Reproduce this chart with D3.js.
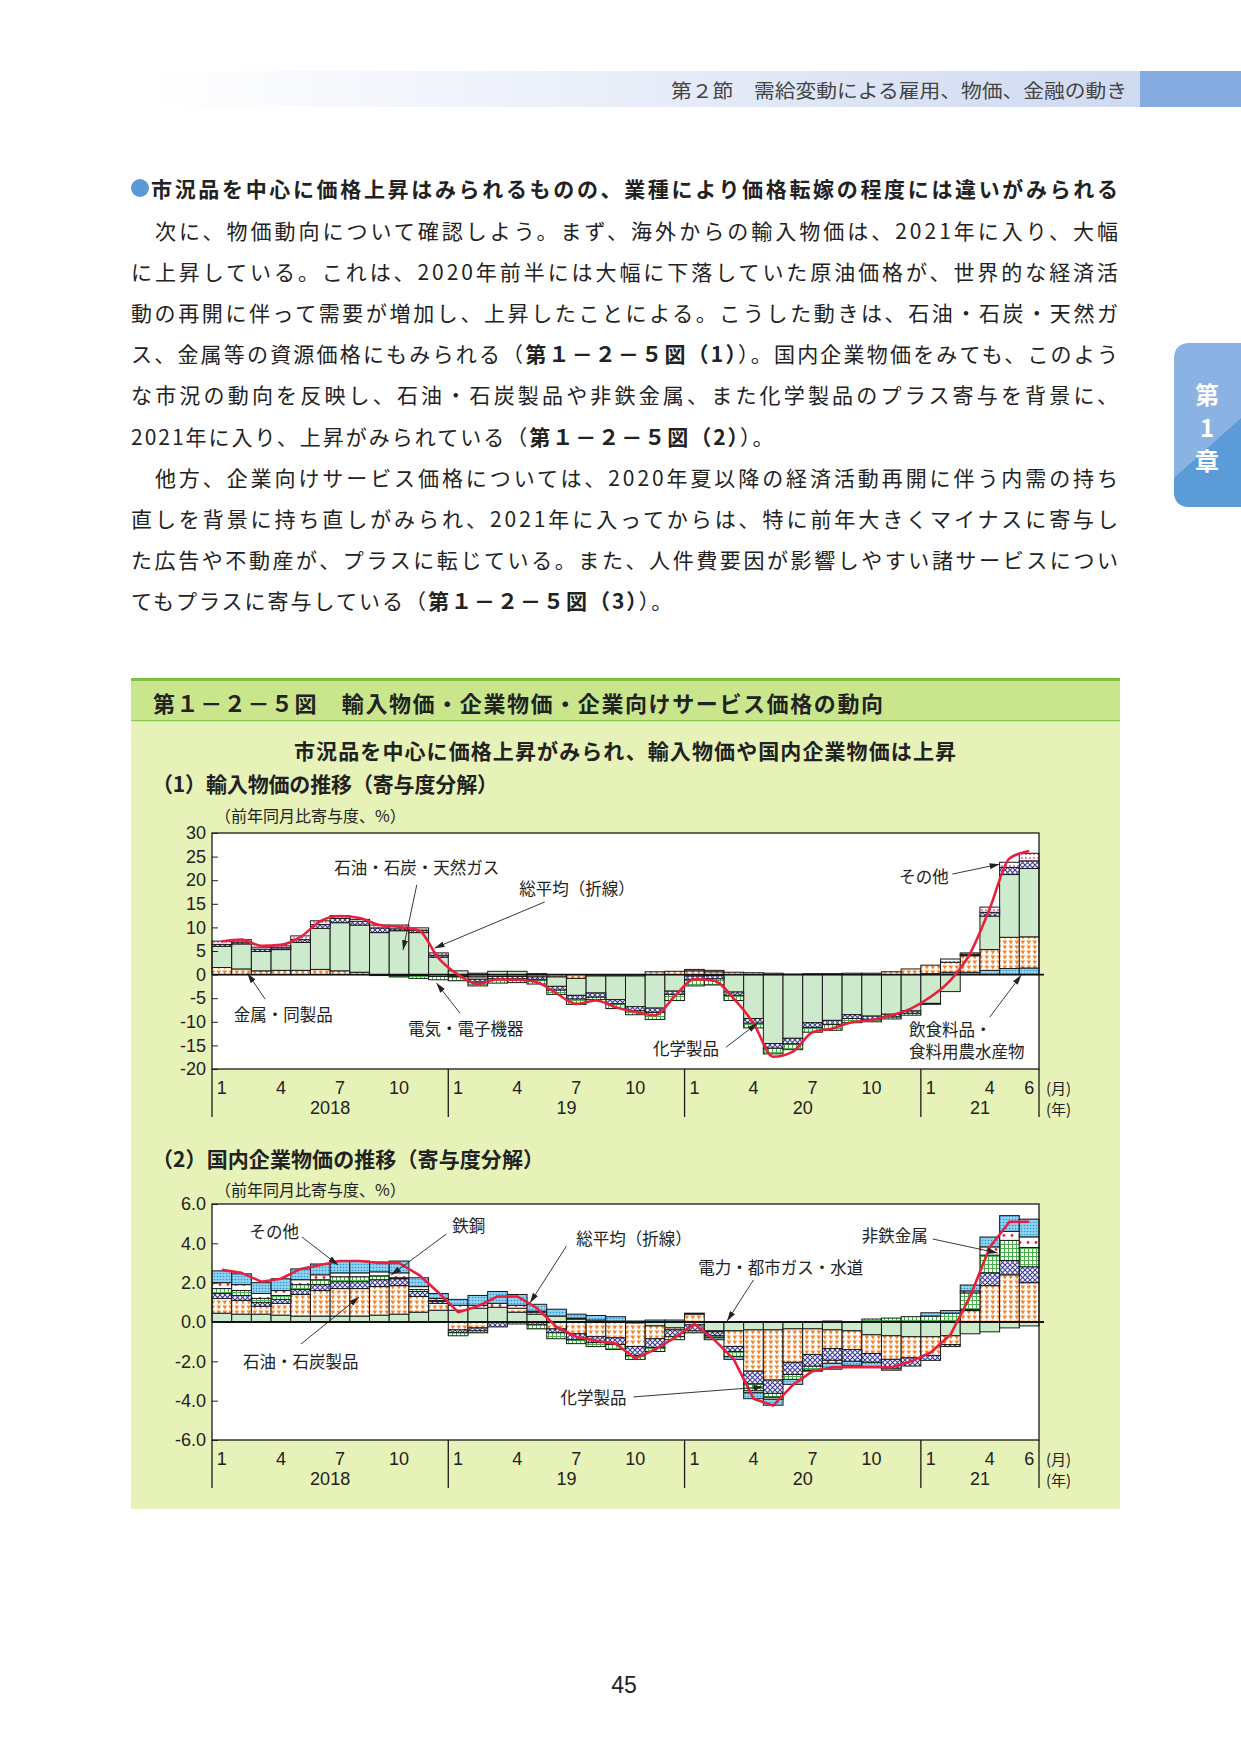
<!DOCTYPE html>
<html>
<head>
<meta charset="utf-8">
<script src="https://cdn.jsdelivr.net/npm/d3@7"></script>
<style>
body{margin:0;background:#fff}
svg{display:block}
</style>
</head>
<body>
<div id="page"></div>
<script>
// ---- data ----
var months = ["2018/1","2018/2","2018/3","2018/4","2018/5","2018/6","2018/7","2018/8","2018/9","2018/10","2018/11","2018/12",
              "2019/1","2019/2","2019/3","2019/4","2019/5","2019/6","2019/7","2019/8","2019/9","2019/10","2019/11","2019/12",
              "2020/1","2020/2","2020/3","2020/4","2020/5","2020/6","2020/7","2020/8","2020/9","2020/10","2020/11","2020/12",
              "2021/1","2021/2","2021/3","2021/4","2021/5","2021/6"];
var monthTicks = [0,3,6,9,12,15,18,21,24,27,30,33,36,39,41];
var years = [{label:"2018",from:0,to:11},{label:"19",from:12,to:23},{label:"20",from:24,to:35},{label:"21",from:36,to:41}];

// (1) import prices, contributions
var food1  = [0,0,0,0,0,0,0,0,0,0,0,0, 0,0,0,0,0,0,0,0,0,0,0,0, 0,0,0,0,0,0,0,0,0,0,0,0, 0.2,0.5,0.5,0.9,1.3,1.4];
var metal1 = [1.5,1.2,0.8,0.9,0.9,1.1,0.8,0.5,-0.2,-0.2,-0.2,-0.4, -0.3,-0.5,-0.4,-0.4,-0.5,-0.5,-0.8,-0.3,-0.3,-0.3,0.6,0.7, 0.8,0.6,0.5,0.4,0.3,0.1,0.2,0.2,0.3,0.3,0.6,1.2, 1.8,2.1,3.5,4.4,6.6,6.6];
var oil1   = [4.5,5.3,4.1,4.4,5.9,8.7,10.2,10.0,8.9,9.3,8.9,3.7, 0.8,-0.5,0.7,0.7,0.2,-2.0,-3.6,-3.6,-5.0,-6.5,-7.1,-3.5, -0.3,-0.2,-3.7,-9.3,-14.6,-13.5,-10.2,-9.7,-8.5,-8.8,-8.4,-7.7, -6.1,-3.6,0.2,7.1,13.3,14.5];
var chem1  = [0.4,0.4,0.5,0.4,0.6,0.8,0.9,0.8,1.0,0.4,0.5,0.4, -0.2,-0.6,-0.5,-0.5,-0.6,-0.8,-0.8,-0.9,-0.9,-0.9,-0.9,-0.7, -0.8,-0.7,-0.7,-1.0,-1.0,-1.2,-1.0,-0.9,-0.8,-0.7,-0.6,-0.5, -0.2,0.0,0.1,0.8,1.5,1.6];
var elec1  = [0,0,0,0,0,0,0,0,0,-0.3,-0.6,-0.7, -0.8,-0.8,-0.9,-0.8,-0.9,-0.9,-1.1,-0.5,-1.0,-0.8,-1.5,-1.3, -1.3,-1.3,-1.1,-1.0,-1.2,-1.2,-1.0,-1.2,-0.9,-0.5,-0.4,-0.4, 0,0,0,0,0,0];
var other1 = [0.7,0.5,0.4,0.4,0.8,0.8,0.6,0.4,0.6,0.8,0.5,0.5, 0,0.3,0,0,0,0,0,0,0,0,0,0, 0.3,0.3,0,0,0,0,0,0,0,0,0,0, 0,0.7,0.3,1.1,1.1,1.6];
var total1 = [7.0,7.4,6.1,6.3,8.0,11.3,12.4,12.0,10.5,10.1,9.4,3.5, 0.0,-2.0,-1.0,-1.1,-1.6,-4.0,-6.2,-5.5,-6.9,-7.9,-8.6,-4.6, -1.0,-1.3,-5.1,-10.3,-17.4,-16.3,-12.2,-11.4,-10.1,-9.6,-8.6,-7.2, -4.7,-1.2,4.5,14.0,24.6,26.2];

// (2) domestic corporate goods prices, contributions
var util2   = [0.45,0.4,0.4,0.35,0.3,0.3,0.3,0.3,0.35,0.4,0.5,0.6, 0.6,0.7,0.75,0.5,0.4,0.3,0.15,0.1,0.05,-0.05,-0.2,-0.3, -0.15,-0.45,-0.45,-0.4,-0.4,-0.35,-0.35,-0.4,-0.45,-0.65,-0.7,-0.75, -0.75,-0.7,-0.6,-0.5,-0.3,-0.2];
var petro2  = [0.75,0.7,0.4,0.6,1.1,1.3,1.4,1.4,1.45,1.45,0.8,0.35, -0.4,-0.3,0.0,0.2,0.1,-0.35,-0.6,-0.75,-0.8,-1.2,-0.65,-0.1, 0.4,-0.05,-0.8,-2.1,-2.55,-1.7,-1.3,-0.95,-0.95,-0.95,-1.2,-1.07, -0.95,-0.45,0.58,1.85,2.4,2.0];
var chem2   = [0.25,0.25,0.2,0.2,0.25,0.3,0.35,0.35,0.35,0.35,0.25,0.1, -0.15,-0.15,-0.25,0.0,-0.15,-0.2,-0.3,-0.3,-0.35,-0.45,-0.45,-0.35, -0.3,-0.2,-0.25,-0.65,-0.68,-0.62,-0.6,-0.6,-0.6,-0.45,-0.45,-0.42, -0.25,-0.1,0.05,0.65,0.73,0.81];
var nonfer2 = [0.25,0.25,0.2,0.2,0.25,0.25,0.25,0.25,0.2,0.05,0.1,0.05, -0.15,-0.1,0.0,-0.1,-0.2,-0.3,-0.2,-0.2,-0.25,-0.2,-0.2,-0.15, -0.1,-0.1,-0.25,-0.35,-0.2,-0.25,-0.2,0.05,0.0,0.15,0.2,0.27, 0.3,0.45,0.85,0.9,1.02,0.98];
var steel2  = [0.3,0.3,0.25,0.25,0.25,0.25,0.2,0.2,0.2,0.25,0.15,0.1, 0.25,0.15,0.2,0.15,0.05,0.0,0.05,0.0,0.0,0.0,0.0,0.0, 0.0,0.0,0.0,-0.1,-0.1,0.0,0.0,-0.15,0.0,0.0,0.0,0.0, 0.0,0.0,0.1,0.42,0.46,0.54];
var other2  = [0.6,0.55,0.55,0.6,0.55,0.55,0.6,0.6,0.5,0.6,0.45,0.25, 0.3,0.5,0.6,0.55,0.35,0.35,0.2,0.23,0.22,0.05,0.1,0.1, 0.05,-0.1,-0.15,-0.3,-0.3,-0.25,-0.05,-0.3,-0.2,-0.2,-0.1,0.0, 0.17,0.13,0.3,0.5,0.8,0.9];
var total2  = [2.65,2.5,2.05,2.2,2.7,2.9,3.1,3.1,3.0,3.0,2.4,1.5, 0.5,0.8,1.3,1.3,0.7,-0.25,-0.75,-0.95,-1.1,-1.85,-1.4,-0.8, -0.1,-0.9,-1.9,-3.9,-4.25,-3.2,-2.5,-2.3,-2.3,-2.3,-2.3,-2.0, -1.55,-0.65,1.3,3.8,5.1,5.1];

var ticks1 = [30,25,20,15,10,5,0,-5,-10,-15,-20];
var ticks2 = [6,4,2,0,-2,-4,-6];

var JP = "'Noto Sans CJK JP','Noto Sans',sans-serif";
var NUM = "'Liberation Sans',Arial,sans-serif";

var W = 1241, H = 1755;
var svg = d3.select("#page").append("svg").attr("width", W).attr("height", H);
var defs = svg.append("defs");

// ---- fill patterns ----
function pattern(id, w, h, bg) {
  var p = defs.append("pattern").attr("id", id).attr("width", w).attr("height", h)
      .attr("patternUnits", "userSpaceOnUse");
  p.append("rect").attr("width", w).attr("height", h).attr("fill", bg);
  return p;
}
pattern("tri", 6, 5, "#fff").append("path").attr("d", "M0.4,0.6H5.2L2.8,4.4Z").attr("fill", "#f4822a");
pattern("xhatch", 5, 5, "#fff").append("path").attr("d", "M0,0L5,5M5,0L0,5")
    .attr("stroke", "#3b3a9c").attr("stroke-width", 1.1);
pattern("grid", 4, 4, "#fff").append("path").attr("d", "M0,0.5H4M0.5,0V4")
    .attr("stroke", "#47b04b").attr("stroke-width", 1);
pattern("pinkdots", 4, 4, "#fff").append("circle").attr("cx", 2).attr("cy", 2).attr("r", 0.9).attr("fill", "#ec4a80");
var cy = pattern("cyan", 3, 3, "#8fd3f2");
cy.append("circle").attr("cx", 1.5).attr("cy", 1.5).attr("r", 0.8).attr("fill", "#2196d8");
var rd = pattern("reddots", 8, 7, "#fff");
rd.append("circle").attr("cx", 4).attr("cy", 3.5).attr("r", 1.4).attr("fill", "#e5262c");

// header gradient
var hg = defs.append("linearGradient").attr("id", "hdr").attr("x1", 0).attr("x2", 1);
hg.append("stop").attr("offset", 0).attr("stop-color", "#fff");
hg.append("stop").attr("offset", 1).attr("stop-color", "#cfdaf1");

defs.append("marker").attr("id", "arr").attr("viewBox", "0 0 10 6")
    .attr("refX", 10).attr("refY", 3).attr("markerWidth", 10).attr("markerHeight", 6)
    .attr("markerUnits", "userSpaceOnUse").attr("orient", "auto")
  .append("path").attr("d", "M0,0L10,3L0,6Z").attr("fill", "#222");

// ---- page header ----
svg.append("rect").attr("x", 150).attr("y", 71).attr("width", 990).attr("height", 36).attr("fill", "url(#hdr)");
svg.append("rect").attr("x", 1140).attr("y", 71).attr("width", 101).attr("height", 36).attr("fill", "#86abe0");
svg.append("text").attr("x", 1127).attr("y", 89).attr("text-anchor", "end").attr("dominant-baseline", "central")
    .attr("font-family", JP).attr("font-size", 19).attr("fill", "#444")
    .attr("textLength", 456).attr("lengthAdjust", "spacingAndGlyphs")
    .text("第２節　需給変動による雇用、物価、金融の動き");

// chapter tab
var tab = svg.append("g");
tab.append("path").attr("d", "M1241,343H1190Q1174,343 1174,359V491Q1174,507 1190,507H1241Z").attr("fill", "#8ab3e4");
tab.append("path").attr("d", "M1241,418L1174,478V491Q1174,507 1190,507H1241Z").attr("fill", "#5b9bd8");
["第", "1", "章"].forEach(function(t, i) {
  tab.append("text").attr("x", 1207).attr("y", [393, 426, 459][i]).attr("text-anchor", "middle")
     .attr("dominant-baseline", "central").attr("font-family", JP).attr("font-weight", "bold")
     .attr("font-size", 24).attr("fill", "#fff").text(t);
});

// ---- heading and body text ----
svg.append("circle").attr("cx", 140).attr("cy", 188).attr("r", 9).attr("fill", "#5b9ad6");
svg.append("text").attr("x", 151).attr("y", 188).attr("dominant-baseline", "central")
    .attr("font-family", JP).attr("font-weight", "bold").attr("font-size", 21).attr("fill", "#222")
    .attr("textLength", 967).attr("lengthAdjust", "spacing")
    .text("市況品を中心に価格上昇はみられるものの、業種により価格転嫁の程度には違いがみられる");

var bodyLines = [
  [true,  ["　次に、物価動向について確認しよう。まず、海外からの輸入物価は、2021年に入り、大幅"]],
  [true,  ["に上昇している。これは、2020年前半には大幅に下落していた原油価格が、世界的な経済活"]],
  [true,  ["動の再開に伴って需要が増加し、上昇したことによる。こうした動きは、石油・石炭・天然ガ"]],
  [true,  ["ス、金属等の資源価格にもみられる（", "*第１－２－５図（1）", "）。国内企業物価をみても、このよう"]],
  [true,  ["な市況の動向を反映し、石油・石炭製品や非鉄金属、また化学製品のプラス寄与を背景に、"]],
  [false, ["2021年に入り、上昇がみられている（", "*第１－２－５図（2）", "）。"]],
  [true,  ["　他方、企業向けサービス価格については、2020年夏以降の経済活動再開に伴う内需の持ち"]],
  [true,  ["直しを背景に持ち直しがみられ、2021年に入ってからは、特に前年大きくマイナスに寄与し"]],
  [true,  ["た広告や不動産が、プラスに転じている。また、人件費要因が影響しやすい諸サービスについ"]],
  [false, ["てもプラスに寄与している（", "*第１－２－５図（3）", "）。"]]
];
bodyLines.forEach(function(l, k) {
  var t = svg.append("text").attr("x", 131).attr("y", 230 + 41.1 * k).attr("dominant-baseline", "central")
      .attr("font-family", JP).attr("font-size", 21).attr("fill", "#222");
  if (l[0]) t.attr("textLength", 987).attr("lengthAdjust", "spacing");
  else t.attr("letter-spacing", 2);
  l[1].forEach(function(s) {
    var bold = s.charAt(0) === "*";
    t.append("tspan").attr("font-weight", bold ? "bold" : null).text(bold ? s.slice(1) : s);
  });
});

// ---- figure box ----
svg.append("rect").attr("x", 131).attr("y", 680).attr("width", 989).attr("height", 829).attr("fill", "#e6f2b7");
svg.append("rect").attr("x", 131).attr("y", 680).attr("width", 989).attr("height", 41).attr("fill", "#c9e68d");
svg.append("rect").attr("x", 131).attr("y", 678).attr("width", 989).attr("height", 3).attr("fill", "#7cc043");
svg.append("rect").attr("x", 131).attr("y", 720).attr("width", 989).attr("height", 1.2).attr("fill", "#8cc850");
svg.append("text").attr("x", 153).attr("y", 702).attr("dominant-baseline", "central")
    .attr("font-family", JP).attr("font-weight", "bold").attr("font-size", 22).attr("fill", "#222")
    .attr("textLength", 730).attr("lengthAdjust", "spacing")
    .text("第１－２－５図　輸入物価・企業物価・企業向けサービス価格の動向");
svg.append("text").attr("x", 625).attr("y", 750).attr("text-anchor", "middle").attr("dominant-baseline", "central")
    .attr("font-family", JP).attr("font-weight", "bold").attr("font-size", 21).attr("fill", "#222")
    .attr("textLength", 662).attr("lengthAdjust", "spacing")
    .text("市況品を中心に価格上昇がみられ、輸入物価や国内企業物価は上昇");

function subTitle(y, txt, len) {
  svg.append("text").attr("x", 152).attr("y", y).attr("dominant-baseline", "central")
     .attr("font-family", JP).attr("font-weight", "bold").attr("font-size", 21).attr("fill", "#222")
     .attr("textLength", len).attr("lengthAdjust", "spacing").text(txt);
}
function unitLabel(y) {
  svg.append("text").attr("x", 215).attr("y", y).attr("dominant-baseline", "central")
     .attr("font-family", JP).attr("font-size", 16).attr("fill", "#222").text("（前年同月比寄与度、%）");
}
var hyphen = function(f) { return function(d) { return f(d).replace("\u2212", "-"); }; };

// ---- chart ----
function drawChart(cfg) {
  var x = d3.scaleBand().domain(d3.range(months.length)).range([212, 1039]);
  var y = d3.scaleLinear().domain(cfg.domain).range([cfg.bottom, cfg.top]);
  var bw = x.bandwidth();
  var g = svg.append("g");

  g.append("rect").attr("x", 212).attr("y", cfg.top).attr("width", 827).attr("height", cfg.bottom - cfg.top)
   .attr("fill", "#fff");

  var rows = months.map(function(m, i) {
    var r = {i: i};
    cfg.series.forEach(function(s) { r[s.key] = s.values[i]; });
    return r;
  });
  var stacked = d3.stack().keys(cfg.series.map(function(s) { return s.key; }))
      .offset(d3.stackOffsetDiverging)(rows);
  var fills = {};
  cfg.series.forEach(function(s) { fills[s.key] = s.fill; });

  g.selectAll("g.layer").data(stacked).join("g").attr("class", "layer")
    .attr("fill", function(d) { return fills[d.key]; })
   .selectAll("rect").data(function(d) { return d.filter(function(e) { return e[0] !== e[1]; }); })
   .join("rect")
    .attr("x", function(d) { return x(d.data.i); })
    .attr("width", bw)
    .attr("y", function(d) { return y(Math.max(d[0], d[1])); })
    .attr("height", function(d) { return Math.abs(y(d[0]) - y(d[1])); })
    .attr("stroke", "#1a1a1a").attr("stroke-width", 1);

  g.append("line").attr("x1", 212).attr("x2", 1044).attr("y1", y(0)).attr("y2", y(0))
   .attr("stroke", "#111").attr("stroke-width", 1.8);

  g.append("path").datum(cfg.total)
   .attr("fill", "none").attr("stroke", "#e8203e").attr("stroke-width", 2.6).attr("stroke-linejoin", "round")
   .attr("d", d3.line().x(function(d, i) { return x(i) + bw / 2; }).y(function(d) { return y(d); }).curve(cfg.curve));

  // y axis
  var ax = g.append("g").attr("transform", "translate(212,0)")
      .call(d3.axisLeft(y).tickValues(cfg.ticks).tickSize(-6).tickSizeOuter(0).tickPadding(6).tickFormat(cfg.fmt));
  ax.select(".domain").remove();
  ax.selectAll("line").attr("stroke", "#222");
  ax.selectAll("text").attr("font-family", NUM).attr("font-size", 18).attr("fill", "#222");

  // frame and year separators
  g.append("rect").attr("x", 212).attr("y", cfg.top).attr("width", 827).attr("height", cfg.bottom - cfg.top)
   .attr("fill", "none").attr("stroke", "#1a1a1a").attr("stroke-width", 1.3);
  var seps = years.map(function(d) { return x(d.from); }).concat([1039]);
  g.selectAll("line.sep").data(seps).join("line").attr("class", "sep")
   .attr("x1", function(d) { return d; }).attr("x2", function(d) { return d; })
   .attr("y1", cfg.bottom).attr("y2", cfg.bottom + 48).attr("stroke", "#1a1a1a").attr("stroke-width", 1.3);

  g.selectAll("text.mon").data(monthTicks).join("text").attr("class", "mon")
   .attr("x", function(d) { return x(d) + bw / 2; }).attr("y", cfg.bottom + 19)
   .attr("text-anchor", "middle").attr("dominant-baseline", "central")
   .attr("font-family", NUM).attr("font-size", 18).attr("fill", "#222")
   .text(function(d) { return months[d].split("/")[1]; });
  g.selectAll("text.yr").data(years).join("text").attr("class", "yr")
   .attr("x", function(d) { return (x(d.from) + x(d.to) + bw) / 2; }).attr("y", cfg.bottom + 39)
   .attr("text-anchor", "middle").attr("dominant-baseline", "central")
   .attr("font-family", NUM).attr("font-size", 18).attr("fill", "#222")
   .text(function(d) { return d.label; });
  ["(月)", "(年)"].forEach(function(t, k) {
    g.append("text").attr("x", 1046).attr("y", cfg.bottom + 18 + 21 * k).attr("dominant-baseline", "central")
     .attr("font-family", JP).attr("font-size", 15).attr("fill", "#222").text(t);
  });

  // annotations (positions in month index / value units)
  var xi = function(v) { return 212 + bw * (v + 0.5); };
  cfg.notes.forEach(function(n) {
    n.lines.forEach(function(t, k) {
      g.append("text").attr("x", xi(n.tx)).attr("y", y(n.ty) + k * 22)
       .attr("text-anchor", n.anchor || "start").attr("dominant-baseline", "central")
       .attr("font-family", JP).attr("font-size", 16.5).attr("fill", "#222").text(t);
    });
    g.append("line").attr("x1", xi(n.a[0])).attr("y1", y(n.a[1])).attr("x2", xi(n.a[2])).attr("y2", y(n.a[3]))
     .attr("stroke", "#222").attr("stroke-width", 0.9).attr("marker-end", "url(#arr)");
  });
}

subTitle(783, "（1）輸入物価の推移（寄与度分解）", 346);
unitLabel(815);
drawChart({
  top: 833, bottom: 1069, domain: [-20, 30], ticks: ticks1, fmt: hyphen(d3.format("d")),
  curve: d3.curveMonotoneX, total: total1,
  series: [
    {key: "food",  values: food1,  fill: "url(#cyan)"},
    {key: "metal", values: metal1, fill: "url(#tri)"},
    {key: "oil",   values: oil1,   fill: "#cdebcc"},
    {key: "chem",  values: chem1,  fill: "url(#xhatch)"},
    {key: "elec",  values: elec1,  fill: "url(#grid)"},
    {key: "other", values: other1, fill: "url(#pinkdots)"}
  ],
  notes: [
    {lines: ["石油・石炭・天然ガス"], tx: 9.9, ty: 22.8, anchor: "middle", a: [9.9, 19.0, 9.2, 5.2]},
    {lines: ["総平均（折線）"], tx: 15.1, ty: 18.3, a: [16.4, 15.4, 10.8, 5.6]},
    {lines: ["金属・同製品"], tx: 0.6, ty: -8.4, a: [2.2, -5.2, 1.3, 0.3]},
    {lines: ["電気・電子機器"], tx: 9.45, ty: -11.3, a: [12.1, -8.2, 10.9, -1.8]},
    {lines: ["化学製品"], tx: 21.9, ty: -15.6, a: [25.6, -15.4, 27.2, -10.3]},
    {lines: ["飲食料品・", "食料用農水産物"], tx: 34.9, ty: -11.6, a: [39.0, -9.0, 40.6, -0.1]},
    {lines: ["その他"], tx: 34.4, ty: 20.9, a: [37.1, 21.3, 39.5, 23.4]}
  ]
});

subTitle(1158, "（2）国内企業物価の推移（寄与度分解）", 392);
unitLabel(1189);
drawChart({
  top: 1204, bottom: 1440, domain: [-6, 6], ticks: ticks2, fmt: hyphen(d3.format(".1f")),
  curve: d3.curveLinear, total: total2,
  series: [
    {key: "util",   values: util2,   fill: "#cdebcc"},
    {key: "petro",  values: petro2,  fill: "url(#tri)"},
    {key: "chem",   values: chem2,   fill: "url(#xhatch)"},
    {key: "nonfer", values: nonfer2, fill: "url(#grid)"},
    {key: "steel",  values: steel2,  fill: "url(#reddots)"},
    {key: "other",  values: other2,  fill: "url(#cyan)"}
  ],
  notes: [
    {lines: ["その他"], tx: 1.4, ty: 4.63, a: [4.07, 4.32, 5.9, 2.9]},
    {lines: ["鉄鋼"], tx: 11.7, ty: 4.93, a: [11.4, 4.47, 8.6, 2.39]},
    {lines: ["総平均（折線）"], tx: 18.0, ty: 4.27, a: [17.5, 3.86, 15.65, 0.97]},
    {lines: ["石油・石炭製品"], tx: 1.07, ty: -1.98, a: [4.02, -1.12, 6.97, 1.27]},
    {lines: ["化学製品"], tx: 17.2, ty: -3.81, a: [20.9, -3.81, 27.5, -3.3]},
    {lines: ["電力・都市ガス・水道"], tx: 24.2, ty: 2.8, a: [27.0, 2.14, 25.66, 0.05]},
    {lines: ["非鉄金属"], tx: 32.5, ty: 4.42, a: [36.1, 4.22, 39.4, 3.51]}
  ]
});

// page number
svg.append("text").attr("x", 624).attr("y", 1685).attr("text-anchor", "middle").attr("dominant-baseline", "central")
   .attr("font-family", NUM).attr("font-size", 23).attr("fill", "#222").text("45");
</script>
</body>
</html>
